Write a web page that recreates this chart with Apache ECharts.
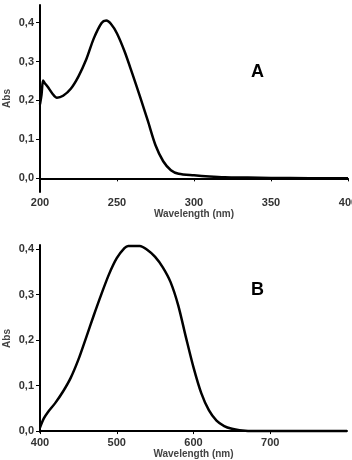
<!DOCTYPE html>
<html>
<head>
<meta charset="utf-8">
<script src="https://cdn.jsdelivr.net/npm/echarts@6/dist/echarts.min.js"></script>
<style>
  html, body { margin: 0; padding: 0; background: #fff; }
  #chart { width: 352px; height: 460px; }
</style>
</head>
<body>
<div id="chart"></div>
<script>
// panel A: UV region
const waveA = [200, 201, 202, 203, 205, 208, 211, 215, 220, 225, 230, 235, 240, 243, 246, 250, 255, 260, 265, 270, 275, 280, 285, 290, 300, 310, 320, 335, 350, 375, 400];
const absA = [0.19, 0.215, 0.251, 0.245, 0.235, 0.218, 0.207, 0.212, 0.23, 0.262, 0.305, 0.36, 0.399, 0.405, 0.397, 0.372, 0.325, 0.268, 0.209, 0.148, 0.085, 0.044, 0.021, 0.012, 0.008, 0.005, 0.003, 0.002, 0.001, 0.0005, 0.0];

// panel B: visible region
const waveB = [400, 405, 410, 420, 430, 440, 450, 460, 470, 480, 490, 500, 510, 515, 520, 530, 540, 550, 560, 570, 580, 590, 600, 610, 620, 630, 640, 650, 660, 680, 700, 750, 800];
const absB = [0.008, 0.028, 0.041, 0.062, 0.087, 0.117, 0.157, 0.205, 0.254, 0.301, 0.345, 0.38, 0.402, 0.407, 0.407, 0.407, 0.398, 0.383, 0.36, 0.328, 0.277, 0.207, 0.14, 0.084, 0.046, 0.023, 0.011, 0.005, 0.002, 0.0, 0.0, 0.0, 0.0];

const yTicks = [0, 0.1, 0.2, 0.3, 0.4];
const xTicksA = [200, 250, 300, 350, 400];
const xTicksB = [400, 500, 600, 700];

const chart = echarts.init(document.getElementById('chart'));

const labelStyle = { color: '#333', fontFamily: 'Liberation Sans', fontWeight: 'bold', fontSize: 11 };
const nameStyle = { color: '#444', fontFamily: 'Liberation Sans', fontWeight: 'bold', fontSize: 10 };
const axisLine = { show: true, lineStyle: { color: '#000', width: 2 } };

const makeX = (idx, min, max, ticks) => ({
    type: 'value', gridIndex: idx, min: min, max: max,
    name: 'Wavelength (nm)', nameLocation: 'middle', nameGap: 17, nameMoveOverlap: false, nameTextStyle: nameStyle,
    axisLine: axisLine,
    axisTick: { show: true, length: 3, customValues: ticks, lineStyle: { color: '#000' } },
    axisLabel: Object.assign({ customValues: ticks, margin: 5, hideOverlap: false }, labelStyle),
    splitLine: { show: false }
});

const makeY = (idx, min, max) => ({
    type: 'value', gridIndex: idx, min: min, max: max,
    name: 'Abs', nameLocation: 'middle', nameRotate: 90, nameGap: 28, nameMoveOverlap: false, nameTextStyle: nameStyle,
    axisLine: axisLine,
    axisTick: { show: true, length: 4, customValues: yTicks, lineStyle: { color: '#000' } },
    axisLabel: Object.assign({
        customValues: yTicks, margin: 6,
        formatter: v => v.toFixed(1).replace('.', ',')
    }, labelStyle),
    splitLine: { show: false }
});

const option = {
    backgroundColor: '#fff',
    animation: false,
    title: [
        { text: 'A', left: 246, top: 58, textStyle: { fontFamily: 'Liberation Sans', fontWeight: 'bold', fontSize: 18, color: '#000' } },
        { text: 'B', left: 246, top: 276, textStyle: { fontFamily: 'Liberation Sans', fontWeight: 'bold', fontSize: 18, color: '#000' } }
    ],
    grid: [
        { left: 40, top: 5, width: 308, height: 187, outerBoundsMode: 'none' },
        { left: 40, top: 245, width: 307, height: 187, outerBoundsMode: 'none' }
    ],
    xAxis: [makeX(0, 200, 400, xTicksA), makeX(1, 400, 800, xTicksB)],
    yAxis: [makeY(0, -0.035, 0.445), makeY(1, -0.002, 0.409)],
    series: [
        {
            type: 'line', xAxisIndex: 0, yAxisIndex: 0, smooth: 0.3, showSymbol: false,
            lineStyle: { color: '#000', width: 2.5 },
            data: waveA.map((w, i) => [w, absA[i]])
        },
        {
            type: 'line', xAxisIndex: 1, yAxisIndex: 1, smooth: 0.3, showSymbol: false,
            lineStyle: { color: '#000', width: 2.5 },
            data: waveB.map((w, i) => [w, absB[i]])
        }
    ]
};

chart.setOption(option);
</script>
</body>
</html>
